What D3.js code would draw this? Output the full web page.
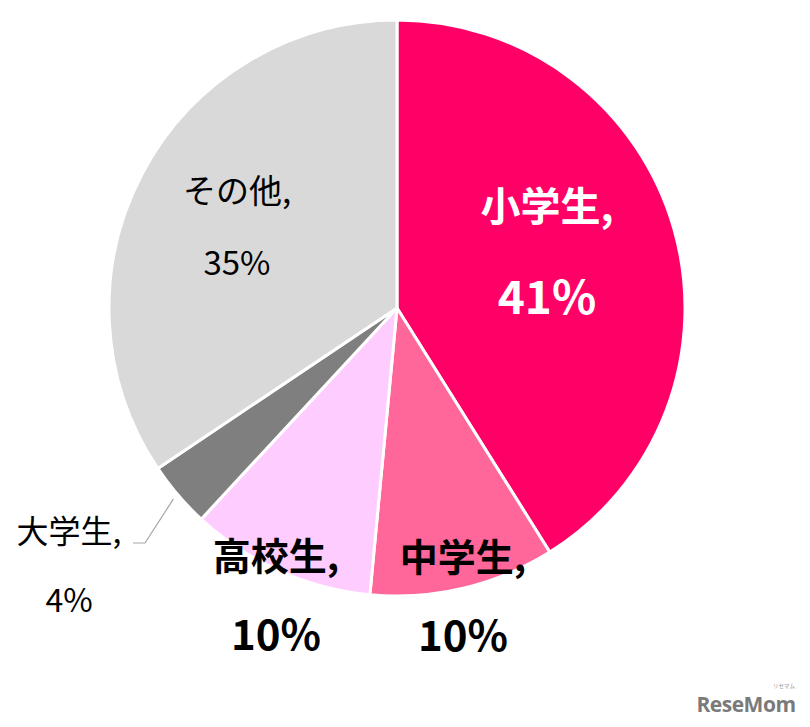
<!DOCTYPE html>
<html><head><meta charset="utf-8">
<script src="https://cdn.jsdelivr.net/npm/d3@7/dist/d3.min.js"></script>
<style>body{margin:0;background:#fff;}svg{display:block;}</style>
</head><body><svg id="c" width="810" height="727"></svg>
<script>
const categories = ["小学生", "中学生", "高校生", "大学生", "その他"];
const values = [41.1, 10.4, 10.4, 3.7, 34.4];
const pctLabels = ["41%", "10%", "10%", "4%", "35%"];
const colors = ["#FF0066", "#FF6699", "#FFCCFF", "#7F7F7F", "#D9D9D9"];

const svg = d3.select("#c");
const cx = 397, cy = 308, R = 288;
const g = svg.append("g").attr("transform", `translate(${cx},${cy})`);
const pie = d3.pie().sort(null).value(d => d)(values);
const arc = d3.arc().innerRadius(0).outerRadius(R);
g.selectAll("path").data(pie).join("path")
  .attr("d", arc).attr("fill", (d, i) => colors[i])
  .attr("stroke", "#fff").attr("stroke-width", 3).attr("stroke-linejoin", "round");

const font = "'Noto Sans CJK JP', 'Noto Sans', sans-serif";
const labelPos = [
  {x: 150, y1: -104, y2: -14, fill: "#fff", weight: 700, s1: 40, s2: 46},
  {x: 66, y1: 246, y2: 324, fill: "#000", weight: 700, s1: 38, s2: 42},
  {x: -121, y1: 245, y2: 323, fill: "#000", weight: 700, s1: 38, s2: 42},
  {x: -328, y1: 221, y2: 290, fill: "#000", weight: 400, s1: 32, s2: 32},
  {x: -160, y1: -119, y2: -47, fill: "#000", weight: 400, s1: 33, s2: 33}
];
categories.forEach((c, i) => {
  const p = labelPos[i];
  g.append("text").attr("x", p.x).attr("y", p.y1).attr("text-anchor", "middle")
    .attr("dominant-baseline", "central")
    .attr("font-family", font).attr("font-weight", p.weight).attr("font-size", p.s1)
    .attr("fill", p.fill).text(c + ",");
  g.append("text").attr("x", p.x).attr("y", p.y2).attr("text-anchor", "middle")
    .attr("dominant-baseline", "central")
    .attr("font-family", font).attr("font-weight", p.weight).attr("font-size", p.s2)
    .attr("fill", p.fill).text(pctLabels[i]);
});
// leader line for 大学生
const mid = pie[3];
const ang = (mid.startAngle + mid.endAngle) / 2;
const r0 = R + 6;
const ex = r0 * Math.sin(ang), ey = -r0 * Math.cos(ang);
g.append("polyline")
  .attr("points", [[-264, 235], [-252, 235], [ex, ey]].map(p => p.join(",")).join(" "))
  .attr("fill", "none").attr("stroke", "#A6A6A6").attr("stroke-width", 1.2);

// watermark
svg.append("text").attr("x", 746).attr("y", 712).attr("text-anchor", "middle")
  .attr("font-family", "'Open Sans', sans-serif").attr("font-weight", 700)
  .attr("font-size", 21).attr("fill", "#7a7a7a").attr("letter-spacing", -0.5).text("ReseMom");
svg.append("text").attr("x", 784).attr("y", 688).attr("text-anchor", "middle")
  .attr("font-family", font).attr("font-size", 5.5).attr("fill", "#999").text("リセマム");
</script></body></html>
